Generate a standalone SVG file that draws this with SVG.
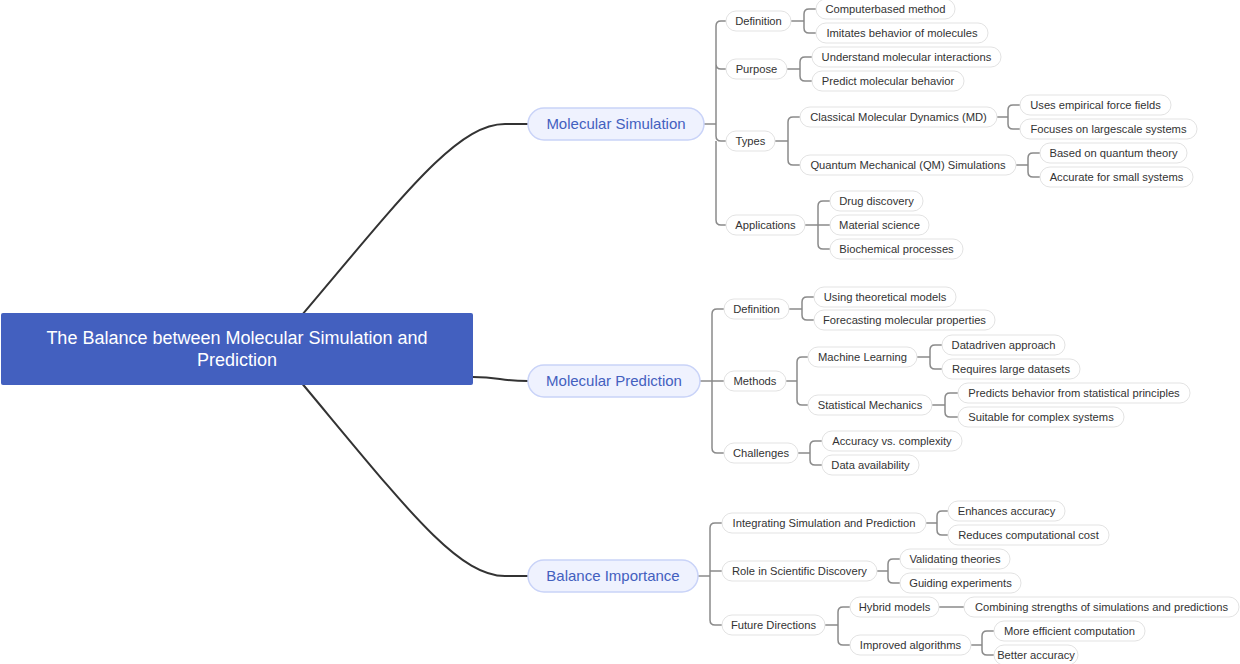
<svg xmlns="http://www.w3.org/2000/svg" width="1240" height="664" viewBox="0 0 1240 664">
<style>
.bg{fill:#ffffff}
.main{fill:none;stroke:#333333;stroke-width:2}
.br{fill:none;stroke:#8a8a8a;stroke-width:1.5}
.root rect{fill:#4360bf}
.root text{fill:#ffffff;font-family:"Liberation Sans",Arial,sans-serif;font-size:18px;text-anchor:middle}
.l1 rect{fill:#eff2fe;stroke:#c9d3f8;stroke-width:1.5}
.l1 text{fill:#4360bf;font-family:"Liberation Sans",Arial,sans-serif;font-size:15px;text-anchor:middle}
.n rect{fill:#ffffff;stroke:#e3e3e3;stroke-width:1}
.n text{fill:#333333;font-family:"Liberation Sans",Arial,sans-serif;font-size:11.2px;text-anchor:middle}
</style>
<rect class="bg" x="0" y="0" width="1240" height="664"/>
<g id="connectors">
<path class="main" d="M285,335 C400,200 455,124 505,124 H528"/>
<path class="main" d="M473,377 C500,377 500,381 528,381"/>
<path class="main" d="M285,363 C400,500 455,576 505,576 H528"/>
<path class="br" d="M704,124 H716 V26 Q716,21 721,21 H726 M716,64 Q716,69 721,69 H726 M716,124 V136 Q716,141 721,141 H726 M716,141 V220 Q716,225 721,225 H726"/>
<path class="br" d="M791,21 H804 V14 Q804,9 809,9 H816 M804,21 V28 Q804,33 809,33 H816"/>
<path class="br" d="M787,69 H800 V62 Q800,57 805,57 H812 M800,69 V76 Q800,81 805,81 H812"/>
<path class="br" d="M775,141 H788 V122 Q788,117 793,117 H800 M788,141 V160 Q788,165 793,165 H800"/>
<path class="br" d="M805,225 H830 M818,225 V206 Q818,201 823,201 H830 M818,225 V244 Q818,249 823,249 H830"/>
<path class="br" d="M997,117 H1008 V110 Q1008,105 1013,105 H1020 M1008,117 V124 Q1008,129 1013,129 H1020"/>
<path class="br" d="M1016,165 H1028 V158 Q1028,153 1033,153 H1040 M1028,165 V172 Q1028,177 1033,177 H1040"/>
<path class="br" d="M700,381 H724 M712,381 V314 Q712,309 717,309 H724 M712,381 V448 Q712,453 717,453 H724"/>
<path class="br" d="M789,309 H802 V302 Q802,297 807,297 H814 M802,309 V315 Q802,320 807,320 H814"/>
<path class="br" d="M786,381 H797 V362 Q797,357 802,357 H808 M797,381 V400 Q797,405 802,405 H808"/>
<path class="br" d="M798,453 H810 V446 Q810,441 815,441 H822 M810,453 V460 Q810,465 815,465 H822"/>
<path class="br" d="M917,357 H930 V350 Q930,345 935,345 H942 M930,357 V364 Q930,369 935,369 H942"/>
<path class="br" d="M932,405 H945 V398 Q945,393 950,393 H958 M945,405 V412 Q945,417 950,417 H958"/>
<path class="br" d="M698,576 H710 M710,576 V528 Q710,523 715,523 H722 M710,571 H722 M710,576 V620 Q710,625 715,625 H722"/>
<path class="br" d="M926,523 H937 V516 Q937,511 942,511 H948 M937,523 V530 Q937,535 942,535 H948"/>
<path class="br" d="M877,571 H888 V564 Q888,559 893,559 H900 M888,571 V578 Q888,583 893,583 H900"/>
<path class="br" d="M825,625 H838 V612 Q838,607 843,607 H850 M838,625 V640 Q838,645 843,645 H850"/>
<path class="br" d="M939,607 H964"/>
<path class="br" d="M971,645 H982 V636 Q982,631 987,631 H994 M982,645 V650 Q982,655 987,655 H994"/>
</g>
<g id="root" class="root">
<rect x="1" y="313" width="472" height="72" rx="2"/>
<text x="237" y="343.5">The Balance between Molecular Simulation and</text>
<text x="237" y="365.5">Prediction</text>
</g>
<g id="molecular-simulation" class="l1"><rect x="528" y="108" width="176" height="32" rx="16"/><text x="616" y="129">Molecular Simulation</text></g>
<g id="molecular-prediction" class="l1"><rect x="528" y="365" width="172" height="32" rx="16"/><text x="614" y="386">Molecular Prediction</text></g>
<g id="balance-importance" class="l1"><rect x="528" y="560" width="170" height="32" rx="16"/><text x="613" y="581">Balance Importance</text></g>

<g id="ms-definition" class="n"><rect x="726" y="11" width="65" height="20" rx="10"/><text x="758.5" y="25">Definition</text></g>
<g id="ms-def-1" class="n"><rect x="816" y="-1" width="139" height="20" rx="10"/><text x="885.5" y="13">Computerbased method</text></g>
<g id="ms-def-2" class="n"><rect x="816" y="23" width="172" height="20" rx="10"/><text x="902" y="37">Imitates behavior of molecules</text></g>
<g id="ms-purpose" class="n"><rect x="726" y="59" width="61" height="20" rx="10"/><text x="756.5" y="73">Purpose</text></g>
<g id="ms-pur-1" class="n"><rect x="812" y="47" width="189" height="20" rx="10"/><text x="906.5" y="61">Understand molecular interactions</text></g>
<g id="ms-pur-2" class="n"><rect x="812" y="71" width="152" height="20" rx="10"/><text x="888" y="85">Predict molecular behavior</text></g>
<g id="ms-types" class="n"><rect x="726" y="131" width="49" height="20" rx="10"/><text x="750.5" y="145">Types</text></g>
<g id="ms-md" class="n"><rect x="800" y="107" width="197" height="20" rx="10"/><text x="898.5" y="121">Classical Molecular Dynamics (MD)</text></g>
<g id="ms-md-1" class="n"><rect x="1020" y="95" width="151" height="20" rx="10"/><text x="1095.5" y="109">Uses empirical force fields</text></g>
<g id="ms-md-2" class="n"><rect x="1020" y="119" width="177" height="20" rx="10"/><text x="1108.5" y="133">Focuses on largescale systems</text></g>
<g id="ms-qm" class="n"><rect x="800" y="155" width="216" height="20" rx="10"/><text x="908" y="169">Quantum Mechanical (QM) Simulations</text></g>
<g id="ms-qm-1" class="n"><rect x="1040" y="143" width="147" height="20" rx="10"/><text x="1113.5" y="157">Based on quantum theory</text></g>
<g id="ms-qm-2" class="n"><rect x="1040" y="167" width="153" height="20" rx="10"/><text x="1116.5" y="181">Accurate for small systems</text></g>
<g id="ms-applications" class="n"><rect x="726" y="215" width="79" height="20" rx="10"/><text x="765.5" y="229">Applications</text></g>
<g id="ms-app-1" class="n"><rect x="830" y="191" width="93" height="20" rx="10"/><text x="876.5" y="205">Drug discovery</text></g>
<g id="ms-app-2" class="n"><rect x="830" y="215" width="99" height="20" rx="10"/><text x="879.5" y="229">Material science</text></g>
<g id="ms-app-3" class="n"><rect x="830" y="239" width="133" height="20" rx="10"/><text x="896.5" y="253">Biochemical processes</text></g>

<g id="mp-definition" class="n"><rect x="724" y="299" width="65" height="20" rx="10"/><text x="756.5" y="313">Definition</text></g>
<g id="mp-def-1" class="n"><rect x="814" y="287" width="142" height="20" rx="10"/><text x="885" y="301">Using theoretical models</text></g>
<g id="mp-def-2" class="n"><rect x="814" y="310" width="181" height="20" rx="10"/><text x="904.5" y="324">Forecasting molecular properties</text></g>
<g id="mp-methods" class="n"><rect x="724" y="371" width="62" height="20" rx="10"/><text x="755" y="385">Methods</text></g>
<g id="mp-ml" class="n"><rect x="808" y="347" width="109" height="20" rx="10"/><text x="862.5" y="361">Machine Learning</text></g>
<g id="mp-ml-1" class="n"><rect x="942" y="335" width="123" height="20" rx="10"/><text x="1003.5" y="349">Datadriven approach</text></g>
<g id="mp-ml-2" class="n"><rect x="942" y="359" width="138" height="20" rx="10"/><text x="1011" y="373">Requires large datasets</text></g>
<g id="mp-sm" class="n"><rect x="808" y="395" width="124" height="20" rx="10"/><text x="870" y="409">Statistical Mechanics</text></g>
<g id="mp-sm-1" class="n"><rect x="958" y="383" width="232" height="20" rx="10"/><text x="1074" y="397">Predicts behavior from statistical principles</text></g>
<g id="mp-sm-2" class="n"><rect x="958" y="407" width="166" height="20" rx="10"/><text x="1041" y="421">Suitable for complex systems</text></g>
<g id="mp-challenges" class="n"><rect x="724" y="443" width="74" height="20" rx="10"/><text x="761" y="457">Challenges</text></g>
<g id="mp-ch-1" class="n"><rect x="822" y="431" width="140" height="20" rx="10"/><text x="892" y="445">Accuracy vs. complexity</text></g>
<g id="mp-ch-2" class="n"><rect x="822" y="455" width="97" height="20" rx="10"/><text x="870.5" y="469">Data availability</text></g>

<g id="bi-integrating" class="n"><rect x="722" y="513" width="204" height="20" rx="10"/><text x="824" y="527">Integrating Simulation and Prediction</text></g>
<g id="bi-int-1" class="n"><rect x="948" y="501" width="117" height="20" rx="10"/><text x="1006.5" y="515">Enhances accuracy</text></g>
<g id="bi-int-2" class="n"><rect x="948" y="525" width="161" height="20" rx="10"/><text x="1028.5" y="539">Reduces computational cost</text></g>
<g id="bi-role" class="n"><rect x="722" y="561" width="155" height="20" rx="10"/><text x="799.5" y="575">Role in Scientific Discovery</text></g>
<g id="bi-role-1" class="n"><rect x="900" y="549" width="110" height="20" rx="10"/><text x="955" y="563">Validating theories</text></g>
<g id="bi-role-2" class="n"><rect x="900" y="573" width="121" height="20" rx="10"/><text x="960.5" y="587">Guiding experiments</text></g>
<g id="bi-future" class="n"><rect x="722" y="615" width="103" height="20" rx="10"/><text x="773.5" y="629">Future Directions</text></g>
<g id="bi-hybrid" class="n"><rect x="850" y="597" width="89" height="20" rx="10"/><text x="894.5" y="611">Hybrid models</text></g>
<g id="bi-hybrid-1" class="n"><rect x="964" y="597" width="275" height="20" rx="10"/><text x="1101.5" y="611">Combining strengths of simulations and predictions</text></g>
<g id="bi-improved" class="n"><rect x="850" y="635" width="121" height="20" rx="10"/><text x="910.5" y="649">Improved algorithms</text></g>
<g id="bi-imp-1" class="n"><rect x="994" y="621" width="151" height="20" rx="10"/><text x="1069.5" y="635">More efficient computation</text></g>
<g id="bi-imp-2" class="n"><rect x="994" y="645" width="84" height="20" rx="10"/><text x="1036" y="659">Better accuracy</text></g>
</svg>
